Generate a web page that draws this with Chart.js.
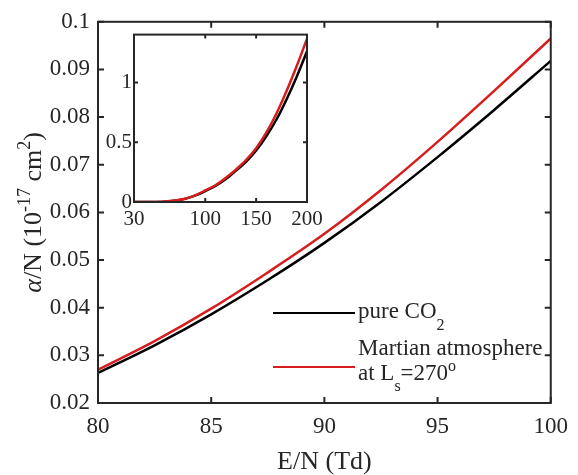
<!DOCTYPE html>
<html>
<head>
<meta charset="utf-8">
<script src="https://cdn.jsdelivr.net/npm/chart.js@4/dist/chart.umd.min.js"></script>
<style>
body { margin: 0; background: #fff; }
#wrap { position: relative; width: 578px; height: 475px; }
#main { position: absolute; left: 0; top: 0; }
#inset { position: absolute; left: 100px; top: 20px; }
</style>
</head>
<body>
<div id="wrap">
<canvas id="main" width="578" height="475"></canvas>
<canvas id="inset" width="230" height="215"></canvas>
</div>
<script>
// E/N (Td) and alpha/N (1e-17 cm2)
var fieldMain = [80, 82.5, 85, 87.5, 90, 92.5, 95, 97.5, 100];
var pureMain = [0.0263, 0.0321, 0.0386, 0.0458, 0.0536, 0.0622, 0.0716, 0.0815, 0.0918];
var marsMain = [0.0270, 0.0330, 0.0398, 0.0474, 0.0555, 0.0647, 0.0748, 0.0855, 0.0965];

var fieldInset = [30, 40, 50, 60, 70, 80, 90, 100, 110, 120, 130, 140, 150, 160, 170, 180, 190, 200];
var pureInset = [0, 0, 0.0005, 0.003, 0.011, 0.0263, 0.0536, 0.0918, 0.135, 0.19, 0.26, 0.335, 0.43, 0.55, 0.69, 0.86, 1.05, 1.26];
var marsInset = [0, 0, 0.0006, 0.0035, 0.012, 0.027, 0.0555, 0.0965, 0.14, 0.2, 0.27, 0.35, 0.45, 0.58, 0.74, 0.93, 1.14, 1.365];

var mainXTicks = [80, 85, 90, 95, 100];
var mainYTicks = [0.02, 0.03, 0.04, 0.05, 0.06, 0.07, 0.08, 0.09, 0.1];
var insetXTicks = [30, 100, 150, 200];
var insetYTicks = [0, 0.5, 1];

var FONT = '"Liberation Serif", "Times New Roman", serif';
var INK = '#262626';
var RED = 'rgb(214, 30, 30)';

function pts(xs, ys) {
    return xs.map(function (x, i) { return {x: x, y: ys[i]}; });
}
function setTicks(list) {
    return function (scale) {
        scale.ticks = list.map(function (v) { return {value: v}; });
    };
}
function plain(v) { return String(+v.toFixed(2)); }

// matlab style box with inward ticks on every side
var frame = {
    id: 'frame',
    afterDraw: function (chart, args, opts) {
        var ctx = chart.ctx, a = chart.chartArea;
        var x = chart.scales.x, y = chart.scales.y;
        ctx.save();
        ctx.strokeStyle = INK;
        ctx.lineWidth = opts.lw;
        ctx.beginPath();
        x.ticks.forEach(function (t) {
            var p = x.getPixelForValue(t.value);
            ctx.moveTo(p, a.bottom); ctx.lineTo(p, a.bottom - opts.len);
            ctx.moveTo(p, a.top); ctx.lineTo(p, a.top + opts.len);
        });
        y.ticks.forEach(function (t) {
            var p = y.getPixelForValue(t.value);
            ctx.moveTo(a.left, p); ctx.lineTo(a.left + opts.len, p);
            ctx.moveTo(a.right, p); ctx.lineTo(a.right - opts.len, p);
        });
        ctx.stroke();
        ctx.strokeRect(a.left, a.top, a.right - a.left, a.bottom - a.top);
        ctx.restore();
    }
};

// text with sub/superscripts: parts = [text, size, dy, italic]
function rich(ctx, parts, x, y) {
    parts.forEach(function (p) {
        ctx.font = (p[3] ? 'italic ' : '') + p[1] + 'px ' + FONT;
        ctx.fillText(p[0], x, y + p[2]);
        x += ctx.measureText(p[0]).width;
    });
}
function richWidth(ctx, parts) {
    var w = 0;
    parts.forEach(function (p) {
        ctx.font = (p[3] ? 'italic ' : '') + p[1] + 'px ' + FONT;
        w += ctx.measureText(p[0]).width;
    });
    return w;
}

var annotate = {
    id: 'annotate',
    afterDraw: function (chart) {
        var ctx = chart.ctx, a = chart.chartArea;
        var ds = chart.data.datasets;
        ctx.save();
        ctx.fillStyle = INK;
        ctx.textBaseline = 'alphabetic';

        // y title, rotated
        var title = [['α', 26, 0, true], ['/N (10', 26, 0], ['-17', 18, -11], [' cm', 26, 0], ['2', 18, -11], [')', 26, 0]];
        ctx.translate(41, (a.top + a.bottom) / 2);
        ctx.rotate(-Math.PI / 2);
        rich(ctx, title, -richWidth(ctx, title) / 2, 0);
        ctx.setTransform(1, 0, 0, 1, 0, 0);

        // legend
        ctx.lineWidth = 2;
        ctx.strokeStyle = ds[1].borderColor;
        ctx.beginPath(); ctx.moveTo(273, 313); ctx.lineTo(355, 313); ctx.stroke();
        ctx.strokeStyle = ds[0].borderColor;
        ctx.beginPath(); ctx.moveTo(273, 367); ctx.lineTo(355, 367); ctx.stroke();
        ctx.fillStyle = INK;
        rich(ctx, [['pure CO', 23, 0], ['2', 16, 12]], 358, 318);
        rich(ctx, [['Martian atmosphere', 23, 0]], 358, 355);
        rich(ctx, [['at L', 23, 0], ['s', 16, 11], ['=270', 23, 0], ['o', 16, -9]], 358, 380);
        ctx.restore();
    }
};

function tickFont(size) {
    return {family: FONT, size: size};
}

new Chart(document.getElementById('main'), {
    type: 'line',
    data: {
        datasets: [
            {label: 'Martian atmosphere at Ls=270°', data: pts(fieldMain, marsMain), borderColor: RED, order: 0},
            {label: 'pure CO2', data: pts(fieldMain, pureMain), borderColor: '#000', order: 1}
        ]
    },
    options: {
        responsive: false,
        animation: false,
        devicePixelRatio: 1,
        layout: {padding: {top: 10, right: 19, left: 0, bottom: 0}},
        elements: {
            point: {radius: 0},
            line: {borderWidth: 2.5, cubicInterpolationMode: 'monotone'}
        },
        plugins: {legend: {display: false}, tooltip: {enabled: false}, frame: {lw: 2, len: 6}},
        scales: {
            x: {
                type: 'linear', min: 80, max: 100,
                afterBuildTicks: setTicks(mainXTicks),
                afterFit: function (s) { s.height = 72; },
                grid: {display: false, drawTicks: false},
                border: {display: false},
                ticks: {font: tickFont(23), color: INK, padding: 10, maxRotation: 0},
                title: {display: true, text: 'E/N (Td)', color: INK, font: {family: FONT, size: 26, lineHeight: 1}, padding: 0}
            },
            y: {
                min: 0.02, max: 0.1,
                afterBuildTicks: setTicks(mainYTicks),
                afterFit: function (s) { s.width = 98; },
                grid: {display: false, drawTicks: false},
                border: {display: false},
                ticks: {font: tickFont(23), color: INK, padding: 8, callback: plain}
            }
        }
    },
    plugins: [frame, annotate]
});

new Chart(document.getElementById('inset'), {
    type: 'line',
    data: {
        datasets: [
            {label: 'Martian atmosphere', data: pts(fieldInset, marsInset), borderColor: RED, order: 0},
            {label: 'pure CO2', data: pts(fieldInset, pureInset), borderColor: '#000', order: 1}
        ]
    },
    options: {
        responsive: false,
        animation: false,
        devicePixelRatio: 1,
        layout: {padding: {top: 8, right: 23, left: 0, bottom: 0}},
        elements: {
            point: {radius: 0},
            line: {borderWidth: 2.5, cubicInterpolationMode: 'monotone'}
        },
        plugins: {legend: {display: false}, tooltip: {enabled: false}, frame: {lw: 2, len: 4}},
        scales: {
            x: {
                type: 'linear', min: 30, max: 200,
                afterBuildTicks: setTicks(insetXTicks),
                afterFit: function (s) { s.height = 33; },
                grid: {display: false, drawTicks: false},
                border: {display: false},
                ticks: {font: tickFont(21), color: INK, padding: 5, maxRotation: 0}
            },
            y: {
                min: 0, max: 1.4,
                afterBuildTicks: setTicks(insetYTicks),
                afterFit: function (s) { s.width = 34; },
                grid: {display: false, drawTicks: false},
                border: {display: false},
                ticks: {font: tickFont(21), color: INK, padding: 2, callback: plain}
            }
        }
    },
    plugins: [frame]
});
</script>
</body>
</html>
